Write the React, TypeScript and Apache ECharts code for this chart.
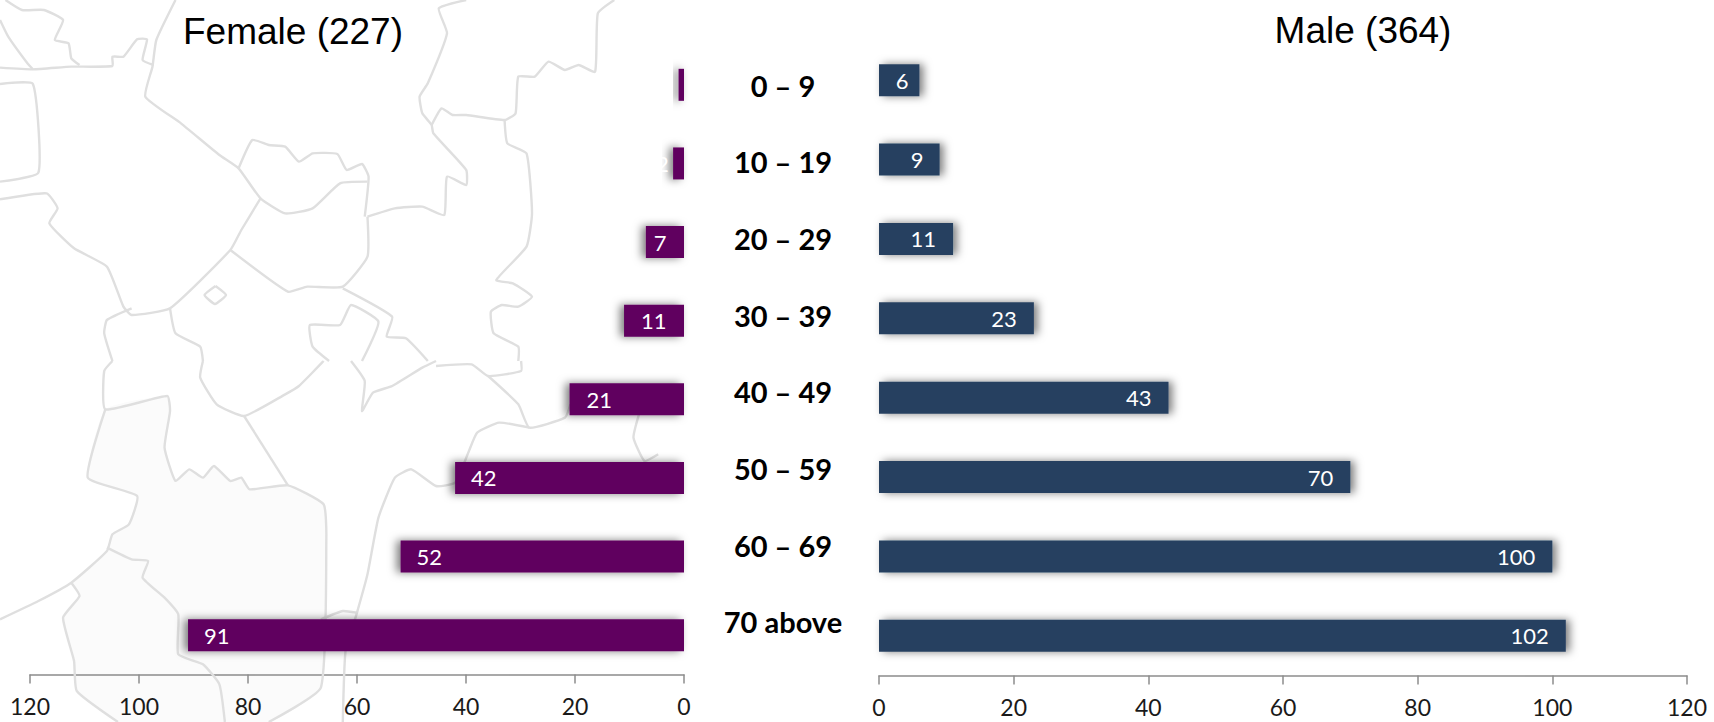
import React, { useEffect, useRef } from "react";
import * as echarts from "echarts";

const femaleCategories = ["0 – 9", "10 – 19", "20 – 29", "30 – 39", "40 – 49", "50 – 59", "60 – 69", "70 above"];
const femaleValues = [1, 2, 7, 11, 21, 42, 52, 91];
const maleValues = [6, 9, 11, 23, 43, 70, 100, 102];
const femaleLabelOffsets = [-25, -17, 8, 17, 17, 16, 16, 16];
const maleLabelOffsets = [-11, -16, -17, -17, -17, -17, -17, -17];

// Decorative background map outlines, in crop coordinates of the two traced regions
const topLines: number[][][] = [
  [[0,203],[60,208],[130,200],[205,198],[205,170],[225,170],[250,118],[268,118],[260,180],[280,195]],
  [[320,0],[285,120],[278,200],[265,290],[330,370],[400,465],[435,505],[475,595],[520,640],[570,625],[620,550],[670,545]],
  [[435,505],[460,420],[490,435],[520,440],[545,485],[570,460],[615,462],[632,510],[660,492],[672,530],[665,650]],
  [[670,650],[720,625],[770,620],[810,645],[815,530],[850,555],[850,510],[790,400],[787,375],[770,340],[765,290],[780,250],[815,100],[800,25],[850,0]],
  [[787,375],[805,325],[825,345],[850,345],[920,360],[940,340],[945,230],[975,230],[1000,185],[1030,210],[1055,195],[1085,215],[1090,40],[1120,0]],
  [[920,360],[925,430],[960,460],[970,640],[960,740],[905,840],[935,850],[970,890],[945,920],[915,915],[895,935],[900,1000],[945,1040],[945,1083]],
  [[475,595],[440,690],[420,750],[310,925],[240,945],[225,920],[195,800],[135,745],[90,670],[105,625],[85,580],[0,598]],
  [[420,750],[525,875],[560,860],[625,860],[670,770],[670,650]],
  [[625,865],[715,950],[705,1010],[740,1015],[780,1083]],
  [[393,858],[412,885],[392,912],[373,885],[393,858]],
  [[310,925],[320,1000],[365,1040],[370,1083]],
  [[240,925],[195,960],[190,1000],[205,1083]],
  [[0,252],[60,252],[70,518],[0,545]],
  [[600,1083],[570,1040],[565,975],[620,975],[640,915],[690,965],[660,1083]],
  [[10,0],[40,30],[80,30],[115,60],[100,120],[125,130],[130,175],[145,195]],
  [[0,60],[15,110],[50,190],[60,208]],
];
const bottomLines: number[][][] = [
  [[205,0],[190,30],[192,145],[305,105],[310,150],[300,260],[320,360],[345,325],[370,350],[390,315],[420,360],[440,350],[455,385],[525,373],[590,430],[595,530],[585,980],[490,1083]],
  [[370,0],[365,50],[395,130],[445,165],[520,100],[545,75],[590,0]],
  [[445,165],[525,373]],
  [[640,0],[665,60],[660,150],[680,95],[715,75],[770,20],[795,0]],
  [[795,15],[860,10],[890,45],[950,30],[950,0]],
  [[890,45],[945,130],[965,200],[1030,170],[1040,130]],
  [[965,200],[910,185],[870,215],[855,270],[830,365],[795,375],[750,325],[720,350],[690,470],[670,640],[650,760],[630,870],[625,1083]],
  [[1165,160],[1155,230],[1175,300],[1200,280]],
  [[192,145],[160,350],[250,405],[235,490],[205,520],[195,570],[130,665],[70,720],[0,775]],
  [[195,560],[240,595],[270,600],[260,650],[300,710],[325,760],[325,880],[370,910],[400,970],[410,1083]],
  [[130,665],[145,705],[115,770],[135,900],[140,990],[215,1083]],
  [[585,775],[625,750],[650,755]],
];
const tintedRegion: number[][] = [[192,145],[305,105],[310,150],[300,260],[320,360],[345,325],[370,350],[390,315],[420,360],[440,350],[455,385],[525,373],[590,430],[595,530],[585,980],[490,1083],[215,1083],[140,990],[135,900],[115,770],[145,705],[130,665],[195,570],[205,520],[235,490],[250,405],[160,350]];

const sx = 860 / 1568;
const toTop = (p: number[]) => [p[0] * sx, p[1] / 3];
const toBottom = (p: number[]) => [p[0] * sx, 361 + p[1] / 3];
const lineStyle = { stroke: "#dfdfdf", lineWidth: 2.4, fill: "none" };

const mapGraphics = [
  { type: "polygon", z: 0, silent: true, shape: { points: tintedRegion.map(toBottom), smooth: 0.15 }, style: { fill: "#fbfbfb" } },
  ...topLines.map((l) => ({ type: "polyline", z: 1, silent: true, shape: { points: l.map(toTop), smooth: 0.15 }, style: lineStyle })),
  ...bottomLines.map((l) => ({ type: "polyline", z: 1, silent: true, shape: { points: l.map(toBottom), smooth: 0.15 }, style: lineStyle })),
];

const tickFont = { fontFamily: "Lato", fontSize: 23, color: "#1a1a1a" };
const axisLine = { lineStyle: { color: "#8c8c8c", width: 1.5 } };

export default function App() {
  const ref = useRef<HTMLDivElement>(null);
  useEffect(() => {
    const chart = echarts.init(ref.current!, null, { renderer: "svg" });
    const valueAxis = (grid: number, inverse: boolean) => ({
      type: "value", gridIndex: grid, min: 0, max: 120, interval: 20, inverse,
      splitLine: { show: false },
      axisLine: { show: true, ...axisLine },
      axisTick: { show: true, length: 9, ...axisLine },
      axisLabel: { ...tickFont, margin: 20, hideOverlap: false, showMinLabel: true, showMaxLabel: true },
    });
    const catAxis = (grid: number) => ({
      type: "category", gridIndex: grid, inverse: true, data: femaleCategories,
      axisLine: { show: false }, axisTick: { show: false }, axisLabel: { show: false },
    });
    const barSeries = (name: string, idx: number, vals: number[], color: string, offs: number[], pos: string, shadowX: number) => ({
      name, type: "bar", xAxisIndex: idx, yAxisIndex: idx, barWidth: 32, z: 3,
      itemStyle: { color, shadowColor: "rgba(0,0,0,0.5)", shadowBlur: 9, shadowOffsetX: shadowX, shadowOffsetY: 0 },
      data: vals.map((value, i) => ({
        value,
        label: { show: true, position: pos, distance: 0, offset: [offs[i], 0], color: "#ffffff", fontFamily: "Lato", fontSize: 22 },
      })),
    });
    chart.setOption({
      animation: false,
      backgroundColor: "#ffffff",
      title: [
        { text: "Female (227)", left: 288, top: 8, textAlign: "center", textStyle: { fontFamily: "Liberation Sans", fontSize: 37, fontWeight: "normal", color: "#000" } },
        { text: "Male (364)", left: 1358, top: 7, textAlign: "center", textStyle: { fontFamily: "Liberation Sans", fontSize: 37, fontWeight: "normal", color: "#000" } },
      ],
      graphic: mapGraphics,
      grid: [
        { left: 30, width: 654, top: 45.5, height: 629, containLabel: false },
        { left: 879, width: 808, top: 40.5, height: 635, containLabel: false },
        { left: 783, width: 1, top: 47, height: 613, containLabel: false },
      ],
      xAxis: [valueAxis(0, true), valueAxis(1, false), { type: "value", gridIndex: 2, show: false, min: 0, max: 1 }],
      yAxis: [
        catAxis(0),
        catAxis(1),
        {
          type: "category", gridIndex: 2, inverse: true, data: femaleCategories,
          axisLine: { show: false }, axisTick: { show: false },
          axisLabel: { show: true, interval: 0, align: "center", margin: 0, fontFamily: "Lato", fontWeight: "bold", fontSize: 29, color: "#000" },
        },
      ],
      series: [
        barSeries("Female", 0, femaleValues, "#60005f", femaleLabelOffsets, "insideLeft", -4),
        barSeries("Male", 1, maleValues, "#264061", maleLabelOffsets, "insideRight", 4),
      ],
    });
    return () => chart.dispose();
  }, []);
  return <div ref={ref} style={{ position: "absolute", left: 0, top: 0, width: 1714, height: 722 }} />;
}
